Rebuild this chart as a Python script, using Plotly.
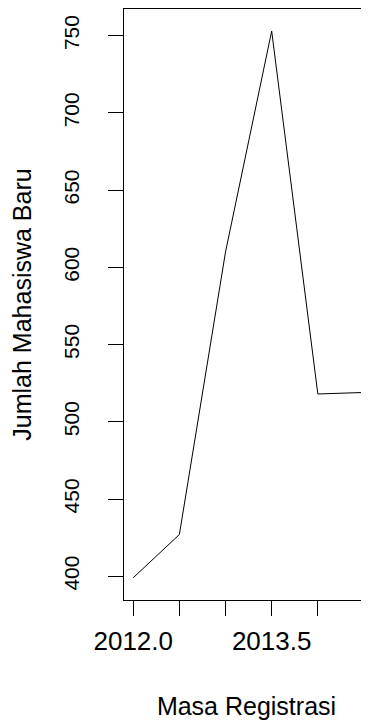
import plotly.graph_objects as go

# Data (semiannual registration periods)
periods = [2012.0, 2012.5, 2013.0, 2013.5, 2014.0, 2014.5]
new_students = [399, 427, 610, 753, 518, 519]

x_tickvals = [2012.0, 2012.5, 2013.0, 2013.5, 2014.0, 2014.5]
x_ticktext = ["2012.0", "", "", "2013.5", "", ""]
y_tickvals = [400, 450, 500, 550, 600, 650, 700, 750]
y_ticktext = [str(v) for v in y_tickvals]

FONT = "Liberation Sans, Arial, sans-serif"

fig = go.Figure()
fig.add_trace(go.Scatter(
    x=periods, y=new_students, mode="lines",
    line=dict(color="black", width=1),
    showlegend=False, hoverinfo="skip",
))

# page body has an 8px default margin, so the figure is offset by 8px
fig.update_layout(
    width=361, height=716,
    margin=dict(l=116, r=0, t=1, b=124),
    paper_bgcolor="white", plot_bgcolor="white",
    font=dict(family=FONT, color="black"),
)

fig.update_xaxes(
    range=[2011.9, 2011.9 + 245 / 92.3],
    tickmode="array", tickvals=x_tickvals, ticktext=x_ticktext,
    ticks="outside", ticklen=15, tickwidth=1, tickcolor="black",
    showline=True, linecolor="black", linewidth=1, mirror=True,
    showgrid=False, zeroline=False,
    tickfont=dict(size=26, family=FONT, color="black"),
    ticklabelstandoff=3,
    title=dict(text="Masa Registrasi", font=dict(size=25, family=FONT, color="black"), standoff=42),
)
fig.update_yaxes(
    range=[384.6, 767.3],
    tickmode="array", tickvals=y_tickvals, ticktext=y_ticktext,
    tickangle=-90,
    ticks="outside", ticklen=15, tickwidth=1, tickcolor="black",
    showline=True, linecolor="black", linewidth=1, mirror=False,
    showgrid=False, zeroline=False,
    tickfont=dict(size=21, family=FONT, color="black"),
    ticklabelstandoff=21,
    title=dict(text="Jumlah Mahasiswa Baru", font=dict(size=25, family=FONT, color="black"), standoff=20),
)

fig.write_html("out.html")
